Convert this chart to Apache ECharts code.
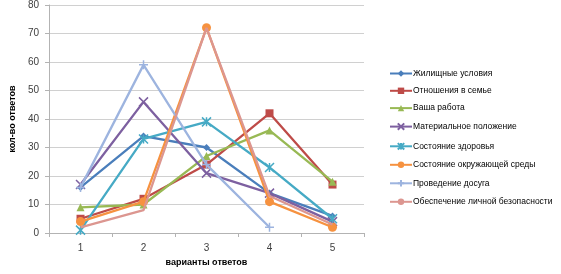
<!DOCTYPE html>
<html style="height: 100%">
<head>
    <meta charset="utf-8">
</head>
<body style="height: 100%; margin: 0; background: #fff">
<div id="container" style="width: 561px; height: 274px"></div>
<script type="text/javascript" src="https://cdn.jsdelivr.net/npm/echarts@6/dist/echarts.min.js"></script>
<script type="text/javascript">
    var categories = ['1', '2', '3', '4', '5'];
    var names = [
        'Жилищные условия',
        'Отношения в семье',
        'Ваша работа',
        'Материальное положение',
        'Состояние здоровья',
        'Состояние окружающей среды',
        'Проведение досуга',
        'Обеспечение личной безопасности'
    ];
    var housing = [16, 34, 30, 14, 6];
    var family = [5, 12, 24, 42, 17];
    var work = [9, 10, 27, 36, 18];
    var material = [17, 46, 21, 14, 4];
    var health = [1, 33, 39, 23, 5];
    var environment = [4, 11, 72, 11, 2];
    var leisure = [16, 59, 24, 2, null];
    var safety = [2, 8, 72, 13, 3];

    var colors = ['#4A7EBB', '#BE4B48', '#98B954', '#7D60A0', '#46AAC5', '#F69240', '#9DB4DF', '#DC9690'];
    var symbols = ['diamond', 'rect', 'triangle', 'path://M0,0L10,10M10,0L0,10', 'path://M0,0L10,10M10,0L0,10M5,0L5,10', 'circle', 'path://M5,0L5,10M0,5L10,5', 'none'];
    var sizes = [7, 8, 8, 9, 9, 9, 9, 0];
    var values = [housing, family, work, material, health, environment, leisure, safety];

    var dom = document.getElementById('container');
    var myChart = echarts.init(dom);

    var series = [];
    for (var i = 0; i < names.length; i++) {
        var isPath = symbols[i].indexOf('path://') === 0;
        series.push({
            name: names[i],
            type: 'line',
            data: values[i],
            symbol: symbols[i],
            symbolSize: sizes[i],
            showSymbol: symbols[i] !== 'none',
            animation: false,
            lineStyle: {width: 2.3, color: colors[i]},
            itemStyle: isPath ? {color: 'none', borderColor: colors[i], borderWidth: 1.5} : {color: colors[i], borderWidth: 0},
            z: i + 2
        });
    }

    var option = {
        color: colors,
        animation: false,
        grid: {left: 40, top: 5, width: 324, height: 228},
        legend: {
            orient: 'vertical',
            left: 384,
            top: 64,
            itemGap: 8.3,
            itemWidth: 22,
            itemHeight: 8,
            textStyle: {fontFamily: 'Liberation Sans', fontSize: 8.5, color: '#000', padding: [0, 0, 0, -4]},
            data: names
        },
        xAxis: {
            type: 'category',
            data: categories,
            boundaryGap: true,
            name: 'варианты ответов',
            nameLocation: 'middle',
            nameGap: 24,
            nameTextStyle: {fontFamily: 'Liberation Sans', fontSize: 9, fontWeight: 'bold', color: '#000'},
            axisLine: {lineStyle: {color: '#B3B3B3'}},
            axisTick: {show: true, length: 4, lineStyle: {color: '#B3B3B3'}},
            axisLabel: {fontFamily: 'Liberation Sans', fontSize: 10, color: '#404040', margin: 10}
        },
        yAxis: {
            type: 'value',
            min: 0,
            max: 80,
            interval: 10,
            name: 'кол-во ответов',
            nameLocation: 'middle',
            nameGap: 28,
            nameTextStyle: {fontFamily: 'Liberation Sans', fontSize: 9, fontWeight: 'bold', color: '#000'},
            axisLine: {show: true, lineStyle: {color: '#B3B3B3'}},
            axisTick: {show: true, length: 4, lineStyle: {color: '#B3B3B3'}},
            splitLine: {lineStyle: {color: '#D0D0D0'}},
            axisLabel: {fontFamily: 'Liberation Sans', fontSize: 10, color: '#404040', margin: 10}
        },
        series: series
    };
    myChart.setOption(option);
</script>
</body>
</html>
